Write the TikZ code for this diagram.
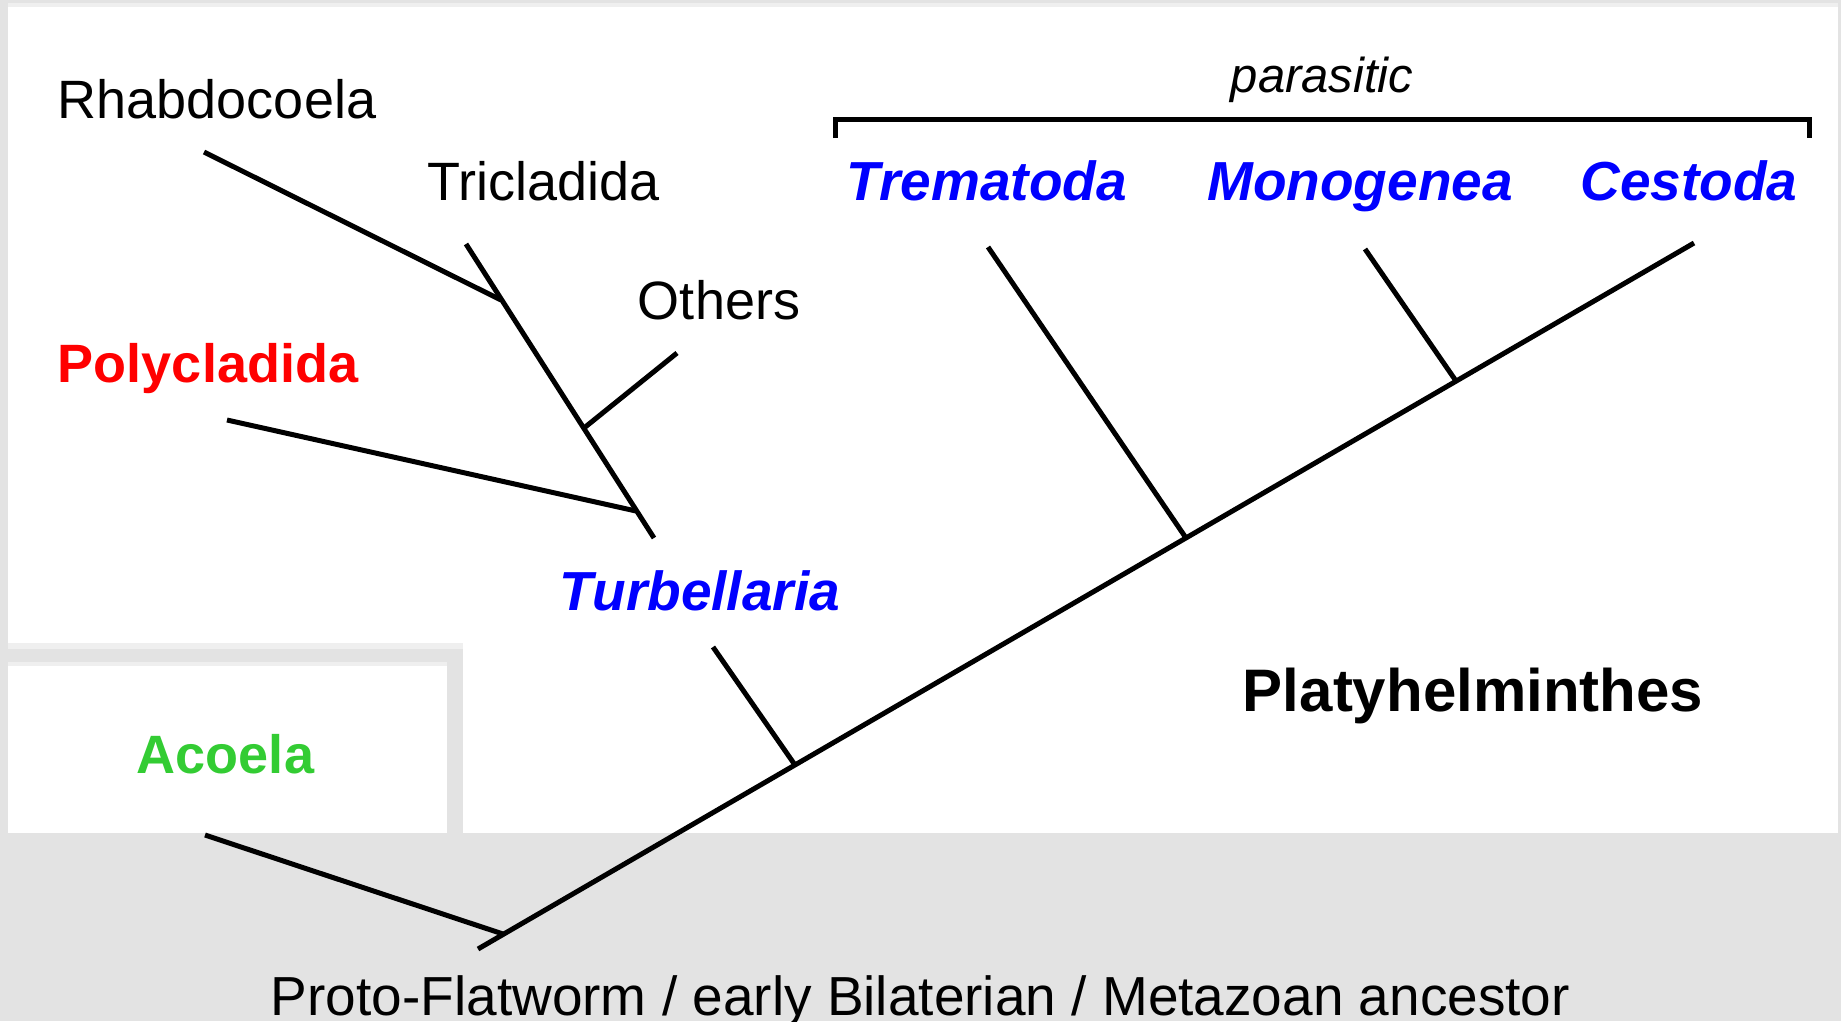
\documentclass[tikz,border=0pt]{standalone}
\usepackage{fontspec}
\setmainfont{Liberation Sans}
\definecolor{bggray}{HTML}{E3E3E3}
\definecolor{edgegray}{HTML}{EFEFEF}
\definecolor{treered}{HTML}{FF0000}
\definecolor{treeblue}{HTML}{0000FF}
\definecolor{treegreen}{HTML}{33CC33}
\begin{document}
\begin{tikzpicture}[x=1pt,y=-1pt,
  lbl/.style={inner sep=0pt, anchor=base, font=\fontsize{54}{60}\selectfont},
  lblbold/.style={lbl, font=\fontsize{54}{60}\selectfont\bfseries},
  lblbi/.style={lbl, font=\fontsize{55}{60}\selectfont\bfseries\itshape, text=treeblue},
  branch/.style={line width=5pt, black},
  brk/.style={line width=5pt, black}
]
% canvas and panels
\fill[bggray] (0,0) rectangle (1841,1021);
\useasboundingbox (0,0) rectangle (1841,1021);
\fill[edgegray] (8,3) rectangle (1838,7);
\fill[white] (8,7) rectangle (1838,833);
% Acoela box
\fill[edgegray] (8,643) rectangle (463,649);
\fill[bggray] (8,649) rectangle (463,833);
\fill[edgegray] (8,662) rectangle (447,666);
\fill[white] (8,666) rectangle (447,833);

% labels
\node[lbl] (rhab) at (217,118) {Rhabdocoela};
\node[lbl] (tric) at (544,200) {Tricladida};
\node[lbl] (oth) at (719,319) {Others};
\node[lblbold, text=treered] (poly) at (208,382) {Polycladida};
\node[lblbi] (turb) at (700,610) {Turbellaria};
\node[lblbi] (trem) at (987,200) {Trematoda};
\node[lblbi] (mono) at (1360,200) {Monogenea};
\node[lblbi] (cest) at (1689,200) {Cestoda};
\node[lbl, font=\fontsize{49}{55}\selectfont\itshape] (para) at (1322,92) {parasitic};
\node[lblbold, font=\fontsize{60}{66}\selectfont\bfseries] (platy) at (1473,711) {Platyhelminthes};
\node[lblbold, text=treegreen] (acoe) at (225.5,773) {Acoela};
\node[lbl, font=\fontsize{55}{60}\selectfont] (proto) at (920.5,1015) {Proto-Flatworm / early Bilaterian / Metazoan ancestor};

% tree points
\coordinate (root) at (478,949);
\coordinate (top) at (1694,243);
\coordinate (acTip) at (205,835);
\coordinate (acJ) at (503,934);
\coordinate (tuTip) at (713,647);
\coordinate (tuJ) at (795,765);
\coordinate (trTip) at (988,247);
\coordinate (trJ) at (1186,538);
\coordinate (moTip) at (1365,249);
\coordinate (moJ) at (1456,381);
\coordinate (stTop) at (466,244);
\coordinate (stBot) at (654,538);
\coordinate (rhTip) at (204,152);
\coordinate (rhJ) at (501,300);
\coordinate (otTip) at (677,353);
\coordinate (otJ) at (584,428);
\coordinate (poTip) at (227,420);
\coordinate (poJ) at (636,511);
\coordinate (bL) at (835,138);
\coordinate (bLt) at (835,119);
\coordinate (bRt) at (1809,119);
\coordinate (bR) at (1809,138);

% branches
\draw[branch] (root) -- (top);
\draw[branch] (acTip) -- (acJ);
\draw[branch] (tuTip) -- (tuJ);
\draw[branch] (trTip) -- (trJ);
\draw[branch] (moTip) -- (moJ);
\draw[branch] (stTop) -- (stBot);
\draw[branch] (rhTip) -- (rhJ);
\draw[branch] (otTip) -- (otJ);
\draw[branch] (poTip) -- (poJ);
% bracket
\draw[brk] (bL) -- (bLt) -- (bRt) -- (bR);
\end{tikzpicture}
\end{document}
